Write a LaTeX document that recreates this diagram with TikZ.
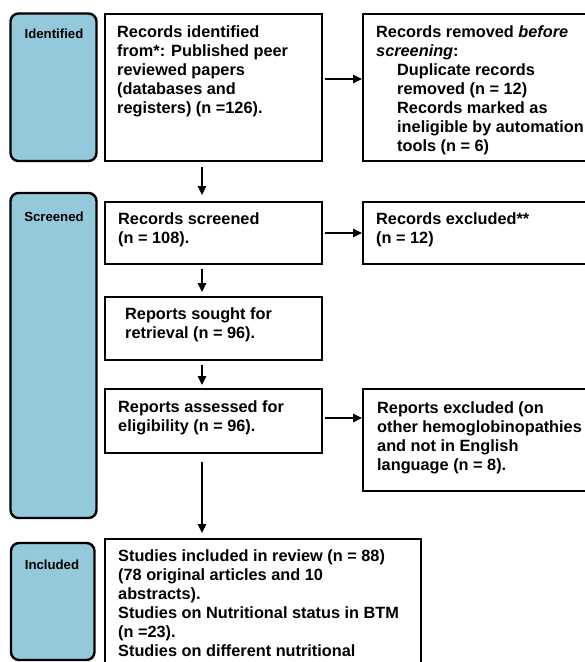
\documentclass[tikz,border=0pt]{standalone}
\usepackage{fontspec}
\setmainfont{Liberation Sans}
\usetikzlibrary{arrows.meta,calc}
\definecolor{stageblue}{RGB}{148,201,219}
\tikzset{
  stagebox/.style={draw=black, line width=2.4pt, fill=stageblue, rounded corners=8pt,
    anchor=north west, inner sep=0pt, outer sep=0pt},
  flowbox/.style={draw=black, line width=2pt, fill=white, anchor=north west,
    inner sep=0pt, outer sep=0pt},
  stagelabel/.style={font=\fontsize{13.2}{15}\selectfont\bfseries, inner sep=0pt, anchor=north},
  flowtext/.style={font=\fontsize{16.3}{19.1}\selectfont\bfseries, inner sep=0pt,
    anchor=north west, align=left},
  arr/.style={line width=1.1pt, -{Triangle[length=9pt,width=8.5pt]}},
}
\begin{document}
\begin{tikzpicture}[x=1pt,y=-1pt]
\useasboundingbox (0,0) rectangle (585,662);
\clip (0,0) rectangle (585,662);
\fill[white] (0,0) rectangle (585,662);

% stage boxes
\node[stagebox, minimum width=86pt, minimum height=147.5pt] (idlab) at (10.5,13.5) {};
\node[stagebox, minimum width=86pt, minimum height=325pt] (sclab) at (10.5,193) {};
\node[stagebox, minimum width=83.5pt, minimum height=117pt] (inlab) at (11,543) {};
\node[stagelabel] (idlabt) at (54,29) {Identified};
\node[stagelabel] (sclabt) at (54,211.5) {Screened};
\node[stagelabel] (inlabt) at (52,560) {Included};

% flow boxes
\node[flowbox, minimum width=217pt, minimum height=147pt] (idbox) at (105,14) {};
\node[flowbox, minimum width=240pt, minimum height=147.5pt] (rembox) at (363,13.5) {};
\node[flowbox, minimum width=217pt, minimum height=62pt] (scbox) at (105,202) {};
\node[flowbox, minimum width=240pt, minimum height=62pt] (exbox) at (363,202) {};
\node[flowbox, minimum width=217pt, minimum height=63pt] (sgbox) at (105,297) {};
\node[flowbox, minimum width=217pt, minimum height=64pt] (asbox) at (105,389) {};
\node[flowbox, minimum width=240pt, minimum height=102pt] (exbbox) at (363,389) {};
\node[flowbox, minimum width=316pt, minimum height=160pt] (stbox) at (105,539) {};

% texts
\node[flowtext] (idtxt) at (117,25) {Records identified\\from*: Published peer\\reviewed papers\\(databases and\\registers) (n =126).};
\node[flowtext] (remtxt) at (376,25) {Records removed \textit{before}\\\textit{screening}:\\\hspace*{21pt}Duplicate records\\\hspace*{21pt}removed (n = 12)\\\hspace*{21pt}Records marked as\\\hspace*{21pt}ineligible by automation\\\hspace*{21pt}tools (n = 6)};
\node[flowtext] (sctxt) at (118,212) {Records screened\\(n = 108).};
\node[flowtext] (extxt) at (376,212) {Records excluded**\\(n = 12)};
\node[flowtext] (sgtxt) at (125,307) {Reports sought for\\retrieval (n = 96).};
\node[flowtext] (astxt) at (118,400) {Reports assessed for\\eligibility (n = 96).};
\node[flowtext] (exbtxt) at (377,401) {Reports excluded (on\\other hemoglobinopathies\\and not in English\\language (n = 8).};
\node[flowtext] (sttxt) at (118,549) {Studies included in review (n = 88)\\(78 original articles and 10\\abstracts).\\Studies on Nutritional status in BTM\\(n =23).\\Studies on different nutritional};

% connectors
\coordinate (ax) at (202,0);
\coordinate (ry1) at (0,79);
\coordinate (ry2) at (0,418);
\draw[arr, shorten <=3pt, shorten >=1pt] (idbox.east |- ry1) -- (rembox.west |- ry1);
\draw[arr, shorten <=3pt, shorten >=1pt] (scbox.east) -- (exbox.west);
\draw[arr, shorten <=3pt, shorten >=1pt] (asbox.east |- ry2) -- (exbbox.west |- ry2);
\draw[arr, shorten <=6pt, shorten >=7pt] (idbox.south -| ax) -- (scbox.north -| ax);
\draw[arr, shorten <=5pt, shorten >=5pt] (scbox.south -| ax) -- (sgbox.north -| ax);
\draw[arr, shorten <=5pt, shorten >=4pt] (sgbox.south -| ax) -- (asbox.north -| ax);
\draw[arr, shorten <=9pt, shorten >=6pt] (asbox.south -| ax) -- (stbox.north -| ax);
\end{tikzpicture}
\end{document}
